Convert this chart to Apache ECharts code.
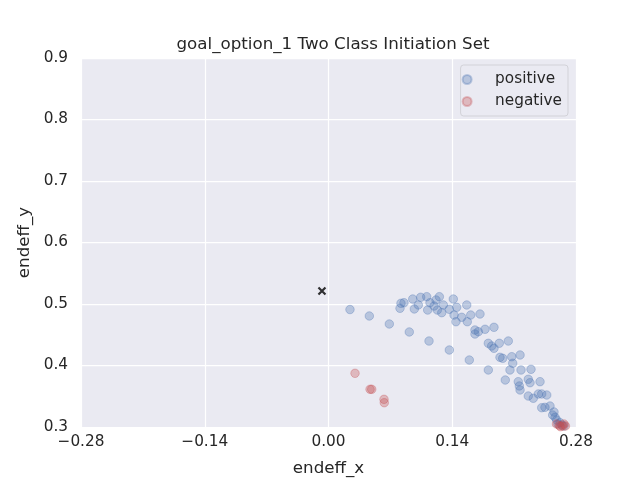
<!DOCTYPE html>
<html>
<head>
    <meta charset="utf-8">
    <title>goal_option_1 Two Class Initiation Set</title>
    <script src="https://cdn.jsdelivr.net/npm/echarts@6/dist/echarts.min.js"></script>
    <style>
        html, body {margin: 0; padding: 0; background: #fff;}
        #main {width: 640px; height: 480px;}
    </style>
</head>
<body>
<div id="main"></div>
<script type="text/javascript">
    // values
    var posX = [0.0243, 0.0462, 0.0688, 0.0914, 0.1137, 0.1367, 0.1593, 0.1808, 0.2000, 0.2167,
        0.0809, 0.0820, 0.0854, 0.0953, 0.0971, 0.1016, 0.1043, 0.1111, 0.1122, 0.1148,
        0.1194, 0.1216, 0.1254, 0.1231, 0.1281, 0.1299, 0.1367, 0.1412, 0.1450, 0.1420,
        0.1442, 0.1507, 0.1564, 0.1570, 0.1609, 0.1714, 0.1657, 0.1657, 0.1695, 0.1771,
        0.1872, 0.1808, 0.1846, 0.1872, 0.1932, 0.2034, 0.1940, 0.1971, 0.2073, 0.2167,
        0.2084, 0.2053, 0.2178, 0.2291, 0.2147, 0.2159, 0.2260, 0.2280, 0.2393, 0.2260,
        0.2317, 0.2374, 0.2412, 0.2469, 0.2412, 0.2449, 0.2506, 0.2536, 0.2563, 0.2582,
        0.2619, 0.2596, 0.2641, 0.2664, 0.2551];
    var posY = [0.491, 0.4805, 0.4675, 0.4545, 0.4398, 0.4252, 0.4089, 0.3927, 0.3764, 0.3602,
        0.4930, 0.5011, 0.5021, 0.5081, 0.4919, 0.4984, 0.5109, 0.5119, 0.4902, 0.5021,
        0.4967, 0.5065, 0.5119, 0.4902, 0.4859, 0.4984, 0.4914, 0.5081, 0.4946, 0.4821,
        0.4712, 0.4784, 0.4984, 0.4712, 0.4821, 0.4837, 0.4577, 0.4512, 0.4550, 0.4589,
        0.4621, 0.4361, 0.4317, 0.4280, 0.4361, 0.4398, 0.4133, 0.4117, 0.4143, 0.4171,
        0.4036, 0.3927, 0.3927, 0.3938, 0.3737, 0.3667, 0.3776, 0.3720, 0.3737, 0.3504,
        0.3467, 0.3537, 0.3537, 0.3520, 0.3314, 0.3320, 0.3341, 0.3195, 0.3158, 0.3114,
        0.3070, 0.3049, 0.3033, 0.3016, 0.3244];
    var negX = [0.0300, 0.0470, 0.0489, 0.0628, 0.0631, 0.2579, 0.2613, 0.2647, 0.2681, 0.2624, 0.2664];
    var negY = [0.3873, 0.3613, 0.3613, 0.3450, 0.3395, 0.3049, 0.3024, 0.3016, 0.3016, 0.3005, 0.3049];
    var startX = [-0.0074];
    var startY = [0.521];
    var xTicks = [-0.28, 0.28, 0.14];   // min, max, interval
    var yTicks = [0.3, 0.9, 0.1];

    function pairs(xs, ys) {
        var out = [];
        for (var i = 0; i < xs.length; i++) out.push([xs[i], ys[i]]);
        return out;
    }

    var font = 'DejaVu Sans';
    var ink = '#262626';

    var myChart = echarts.init(document.getElementById('main'));
    var option = {
        backgroundColor: '#ffffff',
        animation: false,
        title: {
            text: 'goal_option_1 Two Class Initiation Set',
            left: 328,
            top: 31,
            textAlign: 'center',
            textStyle: {fontFamily: font, fontSize: 16.7, fontWeight: 'normal', color: ink}
        },
        grid: {
            left: 81, right: 64, top: 58, bottom: 53,
            outerBoundsMode: 'none',
            containLabel: false,
            show: true, backgroundColor: '#EAEAF2', borderWidth: 0
        },
        legend: {
            data: ['positive', 'negative'],
            orient: 'vertical',
            right: 72,
            top: 65,
            padding: [7, 6, 7, 1],
            itemGap: 7,
            itemWidth: 40,
            itemHeight: 9,
            icon: 'circle',
            backgroundColor: '#EAEAF2',
            borderColor: '#d2d2d8',
            borderWidth: 1,
            borderRadius: 3,
            textStyle: {fontFamily: font, fontSize: 15.3, color: ink, padding: [0, 0, 0, 3]}
        },
        xAxis: {
            type: 'value',
            min: xTicks[0], max: xTicks[1], interval: xTicks[2],
            name: 'endeff_x',
            nameLocation: 'middle',
            nameGap: 33,
            nameTextStyle: {fontFamily: font, fontSize: 16.7, color: ink},
            axisLine: {show: false},
            axisTick: {show: false},
            axisLabel: {
                fontFamily: font, fontSize: 15.3, color: ink, margin: 8,
                formatter: function (v) {
                    if (Math.abs(v) < 1e-9) v = 0;
                    return v.toFixed(2).replace('-', '\u2212');
                }
            },
            splitLine: {lineStyle: {color: '#ffffff', width: 1.25}}
        },
        yAxis: {
            type: 'value',
            min: yTicks[0], max: yTicks[1], interval: yTicks[2],
            name: 'endeff_y',
            nameLocation: 'middle',
            nameGap: 43,
            nameTextStyle: {fontFamily: font, fontSize: 16.7, color: ink},
            axisLine: {show: false},
            axisTick: {show: false},
            axisLabel: {
                fontFamily: font, fontSize: 15.3, color: ink, margin: 13,
                formatter: function (v) { return v.toFixed(1); }
            },
            splitLine: {lineStyle: {color: '#ffffff', width: 1.25}}
        },
        series: [
            {
                name: 'positive',
                type: 'scatter',
                data: pairs(posX, posY),
                symbolSize: 8.5,
                itemStyle: {color: '#4C72B0', opacity: 0.32, borderColor: '#4C72B0', borderWidth: 1}
            },
            {
                name: 'negative',
                type: 'scatter',
                data: pairs(negX, negY),
                symbolSize: 8.5,
                itemStyle: {color: '#C44E52', opacity: 0.32, borderColor: '#C44E52', borderWidth: 1}
            },
            {
                name: 'start',
                type: 'scatter',
                data: pairs(startX, startY),
                symbol: 'path://M0,0L10,10M10,0L0,10',
                symbolSize: 7,
                itemStyle: {color: 'none', borderColor: '#000000', borderWidth: 2.2}
            }
        ]
    };
    myChart.setOption(option);
</script>
</body>
</html>
